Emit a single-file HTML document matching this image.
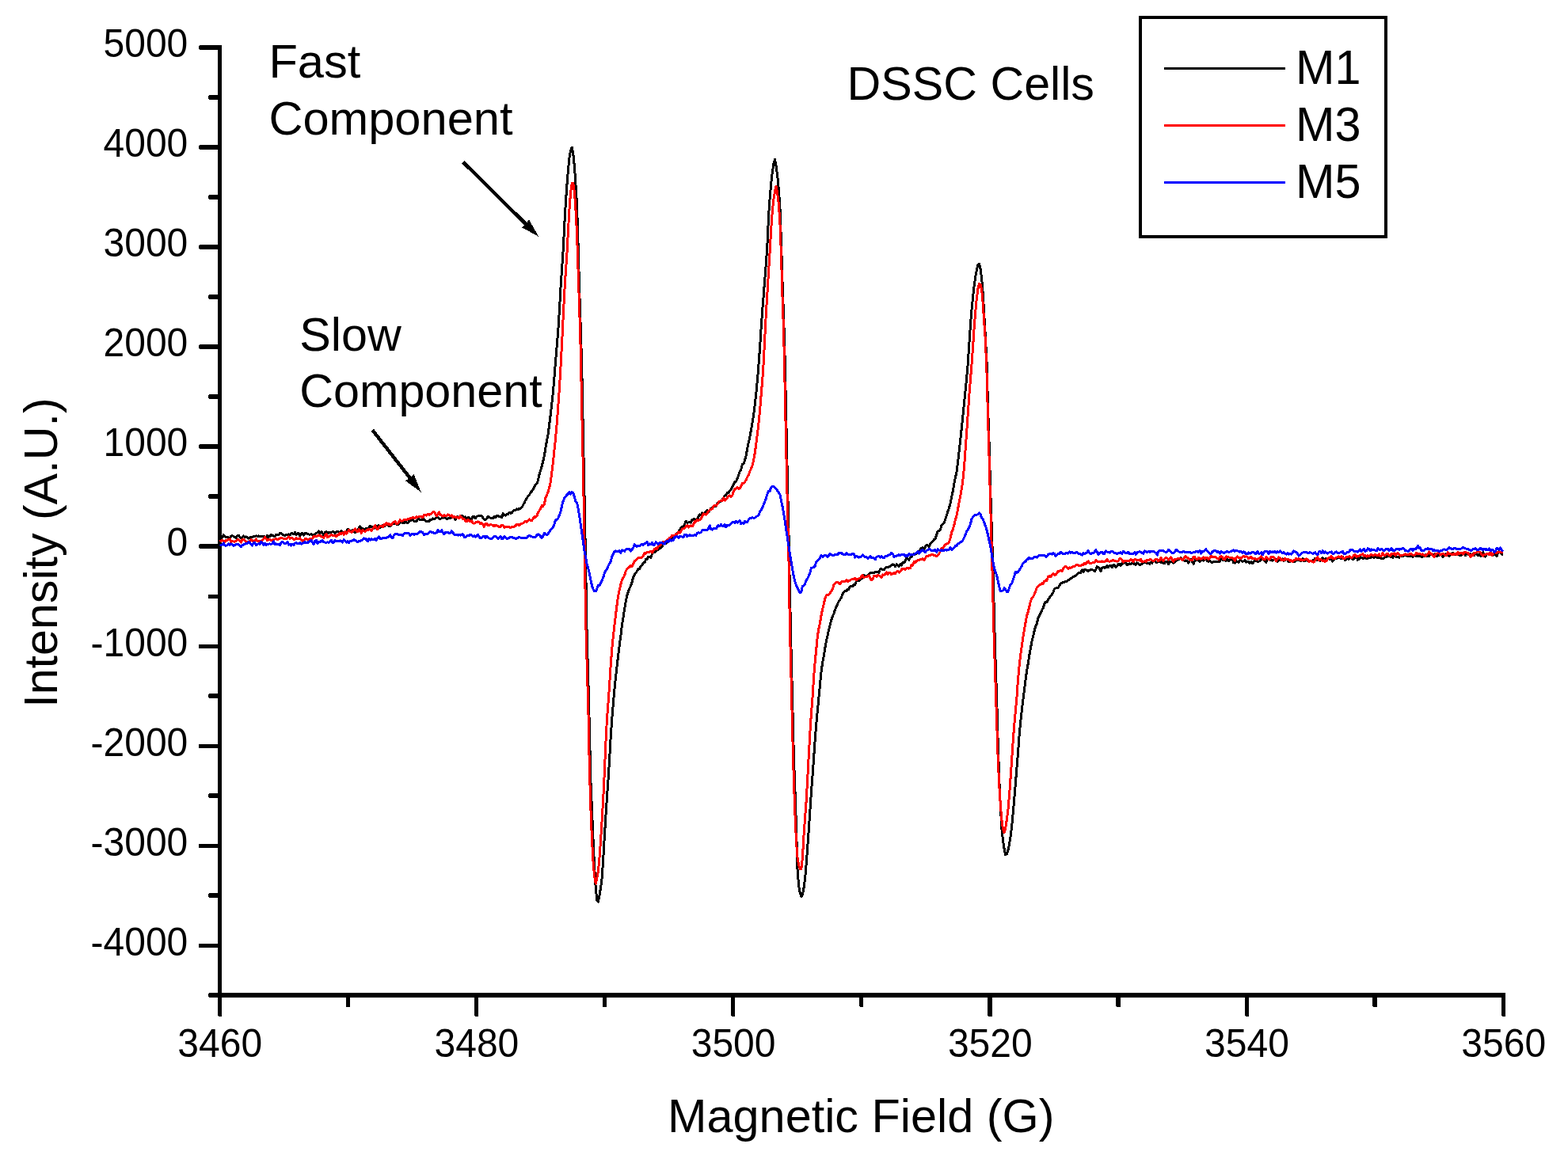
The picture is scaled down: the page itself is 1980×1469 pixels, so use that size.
<!DOCTYPE html>
<html lang="en"><head><meta charset="utf-8"><title>EPR spectra of DSSC cells</title>
<style>html,body{margin:0;padding:0;background:#fff;overflow:hidden}svg{display:block}text{font-family:"Liberation Sans",Arial,Helvetica,sans-serif;fill:#000}.tk{font-size:48px}.tt{font-size:59.4px}.lg{font-size:59.4px}</style></head><body>
<svg width="1980" height="1469" viewBox="0 0 1980 1469">
<rect x="0" y="0" width="1980" height="1469" fill="#fff"/>
<g fill="#000" shape-rendering="crispEdges">
<rect x="275" y="57" width="5" height="1203"/>
<rect x="264" y="1254" width="1637" height="6"/>
<path d="M252 57H276V63H252L251 62V58Z"/>
<path d="M252 183H276V189H252L251 188V184Z"/>
<path d="M252 309H276V315H252L251 314V310Z"/>
<path d="M252 435H276V441H252L251 440V436Z"/>
<path d="M252 561H276V567H252L251 566V562Z"/>
<path d="M252 687H276V693H252L251 692V688Z"/>
<rect x="251" y="814" width="25" height="5"/>
<rect x="251" y="940" width="25" height="5"/>
<rect x="251" y="1066" width="25" height="5"/>
<rect x="251" y="1192" width="25" height="5"/>
<path d="M264 120H276V126H264L263 125V121Z"/>
<path d="M264 246H276V252H264L263 251V247Z"/>
<path d="M264 372H276V378H264L263 377V373Z"/>
<path d="M264 498H276V504H264L263 503V499Z"/>
<path d="M264 624H276V630H264L263 629V625Z"/>
<rect x="263" y="751" width="13" height="5"/>
<path d="M264 876H276V882H264L263 881V877Z"/>
<path d="M264 1002H276V1008H264L263 1007V1003Z"/>
<path d="M264 1128H276V1134H264L263 1133V1129Z"/>
<path d="M264 1254H276V1260H264L263 1259V1255Z"/>
<path d="M275 1258H280V1283L279 1284H276L275 1283Z"/>
<path d="M599 1258H604V1283L603 1284H600L599 1283Z"/>
<path d="M923 1258H928V1283L927 1284H924L923 1283Z"/>
<path d="M1247 1258H1253V1283L1252 1284H1248L1247 1283Z"/>
<path d="M1572 1258H1577V1283L1576 1284H1573L1572 1283Z"/>
<path d="M1896 1258H1901V1283L1900 1284H1897L1896 1283Z"/>
<rect x="437" y="1258" width="5" height="14"/>
<rect x="761" y="1258" width="5" height="14"/>
<path d="M1085 1258H1090V1271L1089 1272H1086L1085 1271Z"/>
<path d="M1409 1258H1415V1271L1414 1272H1410L1409 1271Z"/>
<path d="M1733 1258H1739V1271L1738 1272H1734L1733 1271Z"/>
</g>
<text class="tk" text-anchor="end" transform="translate(237.3 71.9) scale(1 1.04)">5000</text>
<text class="tk" text-anchor="end" transform="translate(237.3 198.0) scale(1 1.04)">4000</text>
<text class="tk" text-anchor="end" transform="translate(237.3 324.1) scale(1 1.04)">3000</text>
<text class="tk" text-anchor="end" transform="translate(237.3 450.2) scale(1 1.04)">2000</text>
<text class="tk" text-anchor="end" transform="translate(237.3 576.3) scale(1 1.04)">1000</text>
<text class="tk" text-anchor="end" transform="translate(237.3 702.4) scale(1 1.04)">0</text>
<text class="tk" text-anchor="end" transform="translate(237.3 828.5) scale(1 1.04)">-1000</text>
<text class="tk" text-anchor="end" transform="translate(237.3 954.6) scale(1 1.04)">-2000</text>
<text class="tk" text-anchor="end" transform="translate(237.3 1080.7) scale(1 1.04)">-3000</text>
<text class="tk" text-anchor="end" transform="translate(237.3 1206.8) scale(1 1.04)">-4000</text>
<text class="tk" text-anchor="middle" transform="translate(277.7 1334.8) scale(1 1.04)">3460</text>
<text class="tk" text-anchor="middle" transform="translate(601.9 1334.8) scale(1 1.04)">3480</text>
<text class="tk" text-anchor="middle" transform="translate(926.1 1334.8) scale(1 1.04)">3500</text>
<text class="tk" text-anchor="middle" transform="translate(1250.3 1334.8) scale(1 1.04)">3520</text>
<text class="tk" text-anchor="middle" transform="translate(1574.5 1334.8) scale(1 1.04)">3540</text>
<text class="tk" text-anchor="middle" transform="translate(1898.7 1334.8) scale(1 1.04)">3560</text>
<text class="tt" text-anchor="middle" transform="translate(1087.3 1429.7)">Magnetic Field (G)</text>
<text class="tt" style="font-size:59.2px" transform="translate(72 893.8) rotate(-90)">Intensity (A.U.)</text>
<text class="tt" style="font-size:59.6px" transform="translate(339.4 98.2)">Fast</text>
<text class="tt" style="font-size:59.6px" transform="translate(339.4 170)">Component</text>
<text class="tt" style="font-size:59.25px" transform="translate(378.3 442.6)">Slow</text>
<text class="tt" style="font-size:59.25px" transform="translate(378.3 514)">Component</text>
<text class="tt" style="font-size:59.2px" transform="translate(1069.5 126.2)">DSSC Cells</text>
<line x1="584.6" y1="204.6" x2="665.0" y2="283.9" stroke="#000" stroke-width="4.4" shape-rendering="crispEdges"/><polygon points="680.3,299.0 658.9,287.2 668.2,277.8" fill="#000" shape-rendering="crispEdges"/>
<line x1="470.3" y1="543.2" x2="518.6" y2="604.9" stroke="#000" stroke-width="4.4" shape-rendering="crispEdges"/><polygon points="531.8,621.8 512.1,607.4 522.6,599.2" fill="#000" shape-rendering="crispEdges"/>
<g fill="none" stroke-width="3" stroke-linejoin="round" stroke-linecap="butt" shape-rendering="crispEdges">
<path stroke="#000000" d="M277.5 681.9L279.1 679.8L280.7 678.5L282.2 675.6L283.8 677.9L285.4 678.5L287.0 678.0L288.6 678.9L290.2 679.3L291.7 677.3L293.3 676.8L294.9 677.3L296.5 678.9L298.1 679.2L299.7 676.7L301.2 676.1L302.8 678.5L304.4 680.3L306.0 678.6L307.6 677.0L309.2 679.0L310.7 677.9L312.3 678.6L313.9 680.1L315.5 679.3L317.1 678.1L318.6 678.7L320.2 677.3L321.8 677.2L323.4 676.9L325.0 677.2L326.6 677.0L328.1 677.2L329.7 677.1L331.3 677.6L332.9 677.7L334.5 678.0L336.1 679.4L337.6 676.1L339.2 678.4L340.8 677.5L342.4 675.4L344.0 676.1L345.5 676.7L347.1 677.8L348.7 675.3L350.3 675.8L351.9 675.9L353.5 673.4L355.0 673.0L356.6 675.3L358.2 676.0L359.8 676.4L361.4 675.7L363.0 675.2L364.5 674.8L366.1 676.0L367.7 673.9L369.3 673.9L370.9 674.8L372.5 672.5L374.0 675.4L375.6 673.9L377.2 673.9L378.8 677.0L380.4 674.2L381.9 673.3L383.5 676.0L385.1 673.6L386.7 673.2L388.3 674.7L389.9 675.0L391.4 675.1L393.0 674.8L394.6 675.9L396.2 675.9L397.8 675.1L399.4 673.3L400.9 672.6L402.5 671.0L404.1 673.7L405.7 671.5L407.3 673.8L408.8 676.0L410.4 672.6L412.0 671.8L413.6 672.1L415.2 673.7L416.8 672.0L418.3 672.1L419.9 671.8L421.5 671.8L423.1 673.8L424.7 671.4L426.3 671.6L427.8 672.2L429.4 672.8L431.0 670.2L432.6 672.2L434.2 672.1L435.8 672.2L437.3 671.2L438.9 668.5L440.5 668.8L442.1 670.9L443.7 670.3L445.2 669.7L446.8 671.7L448.4 672.8L450.0 669.9L451.6 671.2L453.2 666.9L454.7 664.9L456.3 668.3L457.9 667.9L459.5 668.2L461.1 668.2L462.7 667.1L464.2 667.5L465.8 666.9L467.4 664.2L469.0 665.4L470.6 665.8L472.1 667.6L473.7 664.3L475.3 664.3L476.9 664.0L478.5 663.9L480.1 666.1L481.6 665.1L483.2 663.3L484.8 663.5L486.4 664.4L488.0 662.2L489.6 662.2L491.1 664.7L492.7 664.4L494.3 662.8L495.9 661.7L497.5 661.8L499.1 660.0L500.6 662.4L502.2 662.5L503.8 661.7L505.4 659.6L507.0 659.4L508.5 660.9L510.1 660.8L511.7 659.3L513.3 659.9L514.9 660.6L516.5 658.4L518.0 657.6L519.6 657.0L521.2 656.3L522.8 658.5L524.4 658.8L526.0 658.3L527.5 656.2L529.1 655.6L530.7 656.7L532.3 656.6L533.9 657.0L535.5 656.0L537.0 657.2L538.6 659.0L540.2 658.9L541.8 658.6L543.4 656.4L544.9 656.6L546.5 655.0L548.1 655.9L549.7 654.6L551.3 653.8L552.9 653.5L554.4 655.1L556.0 655.1L557.6 654.9L559.2 653.1L560.8 654.2L562.4 652.7L563.9 655.8L565.5 655.0L567.1 654.7L568.7 654.4L570.3 652.4L571.8 652.1L573.4 653.8L575.0 656.3L576.6 653.5L578.2 652.8L579.8 653.7L581.3 651.8L582.9 651.0L584.5 652.5L586.1 653.4L587.7 653.0L589.3 655.2L590.8 653.8L592.4 653.7L594.0 655.5L595.6 656.1L597.2 652.0L598.8 652.2L600.3 654.7L601.9 652.3L603.5 651.9L605.1 651.7L606.7 651.6L608.2 651.9L609.8 653.8L611.4 655.9L613.0 656.7L614.6 655.0L616.2 652.0L617.7 653.6L619.3 654.1L620.9 654.9L622.5 654.6L624.1 652.1L625.7 653.9L627.2 651.3L628.8 651.6L630.4 652.9L632.0 652.9L633.6 653.9L635.1 648.9L636.7 650.2L638.3 651.2L639.9 649.5L641.5 649.7L643.1 647.3L644.6 648.1L646.2 648.0L647.8 645.3L649.4 644.3L651.0 644.2L652.6 642.9L654.1 643.9L655.7 642.4L657.3 642.2L658.9 641.1L660.5 638.0L662.1 635.1L663.6 631.8L665.2 629.2L666.8 626.7L668.4 625.5L670.0 622.1L671.5 620.4L673.1 618.6L674.7 615.2L676.3 612.3L677.9 610.5L679.5 606.8L681.0 599.6L682.6 594.3L684.2 588.8L685.8 582.4L687.4 575.4L689.0 565.1L690.5 556.9L692.1 548.5L693.7 536.2L695.3 523.3L696.9 509.3L698.5 494.2L700.0 475.7L701.6 456.1L703.2 437.2L704.8 417.2L706.4 392.4L707.9 364.6L709.5 340.3L711.1 316.8L712.7 285.1L714.3 256.6L715.9 234.1L717.4 215.4L719.0 199.2L720.6 189.9L722.2 186.1L723.8 194.3L725.4 210.4L726.9 231.8L728.5 257.9L730.1 310.1L731.7 366.6L733.3 415.7L734.8 467.7L736.4 547.8L738.0 625.5L739.6 711.9L741.2 805.9L742.8 857.4L744.3 917.9L745.9 985.9L747.5 1023.0L749.1 1062.5L750.7 1096.2L752.3 1122.6L753.8 1136.9L755.4 1139.2L757.0 1130.9L758.6 1120.9L760.2 1108.3L761.8 1083.8L763.3 1056.8L764.9 1031.2L766.5 1006.7L768.1 983.5L769.7 958.2L771.2 930.5L772.8 907.4L774.4 887.9L776.0 870.5L777.6 854.7L779.2 840.7L780.7 827.2L782.3 814.8L783.9 802.6L785.5 789.2L787.1 779.1L788.7 768.8L790.2 760.2L791.8 752.4L793.4 747.4L795.0 743.1L796.6 739.9L798.1 735.3L799.7 728.8L801.3 726.0L802.9 723.6L804.5 721.3L806.1 718.2L807.6 718.6L809.2 715.2L810.8 714.1L812.4 710.8L814.0 710.8L815.6 706.5L817.1 706.1L818.7 703.1L820.3 703.3L821.9 704.2L823.5 699.3L825.1 697.6L826.6 697.8L828.2 696.3L829.8 693.2L831.4 694.4L833.0 692.6L834.5 692.2L836.1 690.1L837.7 686.5L839.3 685.4L840.9 686.8L842.5 682.9L844.0 681.7L845.6 682.2L847.2 681.9L848.8 680.6L850.4 676.4L852.0 678.4L853.5 675.6L855.1 673.3L856.7 671.6L858.3 669.6L859.9 666.8L861.4 665.6L863.0 666.2L864.6 662.0L866.2 658.1L867.8 660.1L869.4 660.0L870.9 659.5L872.5 660.0L874.1 656.5L875.7 655.8L877.3 655.9L878.9 656.2L880.4 655.4L882.0 652.2L883.6 649.9L885.2 650.2L886.8 648.0L888.4 649.9L889.9 648.1L891.5 646.4L893.1 644.7L894.7 646.3L896.3 644.6L897.8 642.0L899.4 641.8L901.0 640.1L902.6 639.3L904.2 639.1L905.8 636.0L907.3 634.8L908.9 633.6L910.5 632.9L912.1 631.0L913.7 628.6L915.3 626.0L916.8 625.4L918.4 622.5L920.0 622.2L921.6 620.2L923.2 618.4L924.8 615.1L926.3 611.8L927.9 608.9L929.5 608.2L931.1 604.2L932.7 600.3L934.2 595.1L935.8 593.0L937.4 586.3L939.0 586.1L940.6 581.3L942.2 575.0L943.7 566.8L945.3 558.9L946.9 551.7L948.5 542.7L950.1 533.4L951.7 523.5L953.2 511.5L954.8 497.0L956.4 480.2L958.0 460.4L959.6 438.5L961.1 414.2L962.7 392.4L964.3 371.9L965.9 351.2L967.5 330.9L969.1 305.2L970.6 272.1L972.2 249.1L973.8 230.9L975.4 216.5L977.0 206.5L978.6 201.4L980.1 209.8L981.7 221.9L983.3 238.9L984.9 261.0L986.5 306.2L988.1 359.1L989.6 400.4L991.2 454.8L992.8 530.8L994.4 606.2L996.0 675.3L997.5 749.2L999.1 824.2L1000.7 886.8L1002.3 953.3L1003.9 996.4L1005.5 1044.8L1007.0 1097.5L1008.6 1118.8L1010.2 1127.5L1011.8 1132.7L1013.4 1130.2L1015.0 1121.6L1016.5 1110.6L1018.1 1092.0L1019.7 1070.3L1021.3 1047.7L1022.9 1023.4L1024.4 1001.0L1026.0 979.8L1027.6 957.5L1029.2 934.2L1030.8 914.0L1032.4 897.1L1033.9 881.2L1035.5 864.5L1037.1 847.8L1038.7 836.9L1040.3 828.5L1041.9 818.2L1043.4 809.7L1045.0 803.1L1046.6 795.5L1048.2 789.3L1049.8 783.1L1051.4 778.4L1052.9 775.1L1054.5 770.2L1056.1 766.5L1057.7 762.6L1059.3 759.3L1060.8 757.3L1062.4 754.9L1064.0 750.1L1065.6 748.2L1067.2 746.6L1068.8 747.0L1070.3 744.2L1071.9 744.2L1073.5 740.8L1075.1 740.0L1076.7 740.7L1078.3 738.3L1079.8 738.4L1081.4 733.9L1083.0 734.0L1084.6 733.9L1086.2 732.4L1087.8 729.4L1089.3 730.3L1090.9 726.3L1092.5 728.1L1094.1 727.7L1095.7 727.5L1097.2 725.6L1098.8 723.4L1100.4 723.2L1102.0 723.0L1103.6 723.9L1105.2 722.7L1106.7 722.8L1108.3 722.6L1109.9 723.3L1111.5 718.7L1113.1 718.6L1114.7 720.0L1116.2 719.8L1117.8 717.5L1119.4 716.7L1121.0 716.5L1122.6 716.3L1124.1 715.0L1125.7 714.1L1127.3 713.0L1128.9 713.4L1130.5 715.5L1132.1 712.8L1133.6 713.8L1135.2 715.3L1136.8 712.8L1138.4 714.0L1140.0 710.8L1141.6 711.0L1143.1 708.5L1144.7 705.3L1146.3 705.7L1147.9 707.3L1149.5 703.9L1151.1 703.2L1152.6 700.9L1154.2 699.5L1155.8 700.2L1157.4 698.9L1159.0 698.4L1160.5 698.2L1162.1 694.0L1163.7 692.1L1165.3 691.8L1166.9 693.7L1168.5 690.4L1170.0 688.4L1171.6 688.8L1173.2 690.6L1174.8 687.1L1176.4 685.0L1178.0 683.4L1179.5 681.6L1181.1 681.0L1182.7 675.1L1184.3 670.9L1185.9 670.4L1187.4 669.1L1189.0 663.5L1190.6 661.7L1192.2 660.8L1193.8 655.4L1195.4 650.9L1196.9 645.9L1198.5 641.4L1200.1 635.5L1201.7 627.6L1203.3 620.0L1204.9 610.9L1206.4 603.3L1208.0 596.1L1209.6 583.7L1211.2 569.6L1212.8 554.7L1214.4 539.8L1215.9 525.3L1217.5 509.0L1219.1 493.1L1220.7 476.6L1222.3 458.3L1223.8 435.0L1225.4 410.7L1227.0 391.5L1228.6 375.0L1230.2 360.5L1231.8 349.4L1233.3 341.2L1234.9 334.1L1236.5 333.2L1238.1 339.9L1239.7 351.7L1241.3 370.9L1242.8 399.0L1244.4 425.6L1246.0 456.9L1247.6 515.6L1249.2 563.7L1250.7 619.1L1252.3 668.1L1253.9 716.6L1255.5 780.4L1257.1 836.6L1258.7 882.9L1260.2 938.7L1261.8 985.1L1263.4 1020.8L1265.0 1047.5L1266.6 1062.4L1268.2 1072.6L1269.7 1079.9L1271.3 1078.8L1272.9 1074.1L1274.5 1066.4L1276.1 1056.6L1277.7 1043.1L1279.2 1026.7L1280.8 1008.7L1282.4 989.2L1284.0 969.4L1285.6 950.0L1287.1 929.1L1288.7 912.1L1290.3 897.0L1291.9 883.8L1293.5 870.6L1295.1 858.7L1296.6 846.9L1298.2 838.4L1299.8 827.8L1301.4 818.7L1303.0 810.1L1304.6 804.1L1306.1 796.9L1307.7 791.1L1309.3 787.6L1310.9 780.7L1312.5 777.2L1314.1 774.6L1315.6 770.7L1317.2 768.0L1318.8 763.1L1320.4 760.2L1322.0 760.6L1323.5 757.2L1325.1 755.4L1326.7 752.5L1328.3 750.9L1329.9 748.4L1331.5 743.7L1333.0 743.0L1334.6 742.2L1336.2 742.2L1337.8 739.8L1339.4 736.9L1341.0 736.7L1342.5 735.2L1344.1 735.2L1345.7 734.3L1347.3 734.4L1348.9 732.9L1350.4 732.4L1352.0 730.5L1353.6 730.0L1355.2 728.3L1356.8 728.0L1358.4 726.9L1359.9 725.4L1361.5 724.0L1363.1 723.3L1364.7 723.7L1366.3 719.9L1367.9 722.7L1369.4 719.2L1371.0 719.9L1372.6 720.3L1374.2 721.2L1375.8 720.6L1377.4 719.7L1378.9 719.4L1380.5 720.2L1382.1 722.0L1383.7 719.8L1385.3 715.6L1386.8 716.4L1388.4 717.9L1390.0 721.7L1391.6 717.5L1393.2 716.0L1394.8 717.1L1396.3 717.0L1397.9 714.6L1399.5 716.6L1401.1 714.4L1402.7 714.5L1404.3 716.8L1405.8 713.8L1407.4 713.7L1409.0 716.4L1410.6 714.6L1412.2 712.6L1413.7 712.6L1415.3 714.4L1416.9 711.8L1418.5 711.8L1420.1 710.9L1421.7 710.8L1423.2 713.8L1424.8 713.0L1426.4 711.8L1428.0 712.6L1429.6 711.4L1431.2 710.2L1432.7 712.8L1434.3 713.4L1435.9 711.0L1437.5 712.2L1439.1 713.7L1440.7 712.8L1442.2 712.3L1443.8 710.0L1445.4 710.6L1447.0 708.7L1448.6 711.7L1450.1 711.1L1451.7 712.3L1453.3 710.1L1454.9 711.1L1456.5 708.5L1458.1 708.8L1459.6 710.4L1461.2 710.4L1462.8 709.7L1464.4 707.5L1466.0 710.5L1467.6 710.9L1469.1 711.2L1470.7 711.3L1472.3 709.3L1473.9 709.6L1475.5 712.8L1477.0 709.3L1478.6 709.3L1480.2 708.6L1481.8 711.1L1483.4 710.0L1485.0 707.8L1486.5 707.8L1488.1 706.9L1489.7 705.4L1491.3 704.5L1492.9 706.8L1494.5 707.1L1496.0 708.6L1497.6 707.8L1499.2 708.8L1500.8 711.2L1502.4 708.0L1504.0 706.7L1505.5 709.5L1507.1 712.2L1508.7 708.6L1510.3 706.2L1511.9 707.6L1513.4 708.0L1515.0 709.4L1516.6 707.6L1518.2 707.9L1519.8 708.1L1521.4 706.5L1522.9 705.9L1524.5 708.5L1526.1 709.5L1527.7 707.8L1529.3 710.2L1530.9 710.4L1532.4 709.5L1534.0 709.5L1535.6 709.2L1537.2 709.6L1538.8 709.9L1540.4 708.9L1541.9 705.8L1543.5 707.3L1545.1 707.2L1546.7 706.5L1548.3 708.6L1549.8 706.3L1551.4 708.6L1553.0 707.8L1554.6 706.4L1556.2 706.6L1557.8 710.9L1559.3 711.1L1560.9 708.5L1562.5 709.5L1564.1 710.9L1565.7 707.8L1567.3 707.4L1568.8 709.2L1570.4 709.0L1572.0 707.8L1573.6 710.0L1575.2 709.4L1576.7 709.3L1578.3 711.5L1579.9 709.7L1581.5 711.7L1583.1 709.6L1584.7 708.0L1586.2 708.1L1587.8 709.2L1589.4 709.2L1591.0 708.8L1592.6 706.2L1594.2 705.9L1595.7 707.2L1597.3 708.8L1598.9 710.2L1600.5 705.5L1602.1 706.8L1603.7 707.3L1605.2 707.6L1606.8 708.2L1608.4 707.0L1610.0 705.9L1611.6 708.7L1613.1 709.4L1614.7 707.8L1616.3 707.7L1617.9 707.1L1619.5 705.9L1621.1 708.2L1622.6 707.4L1624.2 706.3L1625.8 706.8L1627.4 709.9L1629.0 709.3L1630.6 708.5L1632.1 708.3L1633.7 709.2L1635.3 709.4L1636.9 706.7L1638.5 707.2L1640.0 707.1L1641.6 708.1L1643.2 708.1L1644.8 705.4L1646.4 708.7L1648.0 708.9L1649.5 705.9L1651.1 708.8L1652.7 708.7L1654.3 708.7L1655.9 708.2L1657.5 708.1L1659.0 707.3L1660.6 705.5L1662.2 706.3L1663.8 707.7L1665.4 707.8L1667.0 708.5L1668.5 707.7L1670.1 704.6L1671.7 707.4L1673.3 706.6L1674.9 705.2L1676.4 706.2L1678.0 705.2L1679.6 706.9L1681.2 705.9L1682.8 709.0L1684.4 707.3L1685.9 705.9L1687.5 705.6L1689.1 703.5L1690.7 704.5L1692.3 705.1L1693.9 705.6L1695.4 703.3L1697.0 705.3L1698.6 707.8L1700.2 706.1L1701.8 705.7L1703.4 706.4L1704.9 704.9L1706.5 704.7L1708.1 706.6L1709.7 706.1L1711.3 703.8L1712.8 702.4L1714.4 707.3L1716.0 706.5L1717.6 703.0L1719.2 704.3L1720.8 705.6L1722.3 705.0L1723.9 702.0L1725.5 705.8L1727.1 705.7L1728.7 704.1L1730.3 704.8L1731.8 703.9L1733.4 703.2L1735.0 704.7L1736.6 701.4L1738.2 703.9L1739.7 704.4L1741.3 704.5L1742.9 704.8L1744.5 705.6L1746.1 705.7L1747.7 704.9L1749.2 702.9L1750.8 703.7L1752.4 702.6L1754.0 701.4L1755.6 703.0L1757.2 703.4L1758.7 704.4L1760.3 700.4L1761.9 702.5L1763.5 703.7L1765.1 703.0L1766.7 704.4L1768.2 701.9L1769.8 702.4L1771.4 702.0L1773.0 702.1L1774.6 701.0L1776.1 701.6L1777.7 703.0L1779.3 702.5L1780.9 702.6L1782.5 701.2L1784.1 703.7L1785.6 701.7L1787.2 701.6L1788.8 702.6L1790.4 701.8L1792.0 702.7L1793.6 702.3L1795.1 704.0L1796.7 703.1L1798.3 702.3L1799.9 700.7L1801.5 701.8L1803.0 703.0L1804.6 702.4L1806.2 700.4L1807.8 700.3L1809.4 700.8L1811.0 701.2L1812.5 699.5L1814.1 703.0L1815.7 701.8L1817.3 701.2L1818.9 700.6L1820.5 700.8L1822.0 703.5L1823.6 700.6L1825.2 699.9L1826.8 699.4L1828.4 699.7L1830.0 702.6L1831.5 700.7L1833.1 699.9L1834.7 698.2L1836.3 699.5L1837.9 700.8L1839.4 700.1L1841.0 699.9L1842.6 701.4L1844.2 701.6L1845.8 700.6L1847.4 699.4L1848.9 698.2L1850.5 701.9L1852.1 699.1L1853.7 700.5L1855.3 700.3L1856.9 699.3L1858.4 701.1L1860.0 699.7L1861.6 701.5L1863.2 699.4L1864.8 700.3L1866.3 701.9L1867.9 699.4L1869.5 702.3L1871.1 702.0L1872.7 697.5L1874.3 700.8L1875.8 703.0L1877.4 700.4L1879.0 699.5L1880.6 700.2L1882.2 697.5L1883.8 699.2L1885.3 701.0L1886.9 699.4L1888.5 700.9L1890.1 703.0L1891.7 698.1L1893.3 696.5L1894.8 697.9L1896.4 700.1L1898.0 700.3"/>
<path stroke="#ff0000" d="M277.5 683.9L279.1 683.6L280.7 682.3L282.2 684.2L283.8 684.7L285.4 682.2L287.0 682.3L288.6 681.6L290.2 681.0L291.7 685.1L293.3 683.6L294.9 684.0L296.5 684.0L298.1 683.5L299.7 681.9L301.2 681.5L302.8 683.4L304.4 685.0L306.0 681.3L307.6 681.2L309.2 682.5L310.7 684.5L312.3 684.3L313.9 684.4L315.5 683.7L317.1 681.7L318.6 682.2L320.2 684.3L321.8 683.4L323.4 681.0L325.0 683.8L326.6 683.6L328.1 683.4L329.7 685.1L331.3 682.2L332.9 680.8L334.5 678.2L336.1 680.8L337.6 682.5L339.2 681.8L340.8 681.4L342.4 682.6L344.0 682.1L345.5 681.8L347.1 681.0L348.7 680.7L350.3 682.0L351.9 680.9L353.5 679.8L355.0 679.4L356.6 679.8L358.2 680.3L359.8 680.8L361.4 680.4L363.0 679.6L364.5 677.7L366.1 680.1L367.7 679.0L369.3 679.5L370.9 681.7L372.5 681.1L374.0 679.4L375.6 681.0L377.2 680.5L378.8 679.8L380.4 682.1L381.9 682.2L383.5 685.3L385.1 680.8L386.7 680.3L388.3 681.3L389.9 682.4L391.4 680.3L393.0 681.6L394.6 680.0L396.2 677.6L397.8 677.4L399.4 677.4L400.9 676.9L402.5 676.0L404.1 676.2L405.7 677.8L407.3 678.2L408.8 679.4L410.4 676.2L412.0 674.7L413.6 678.7L415.2 677.8L416.8 677.0L418.3 675.3L419.9 676.4L421.5 676.5L423.1 676.2L424.7 677.7L426.3 675.5L427.8 675.7L429.4 673.4L431.0 674.8L432.6 672.9L434.2 675.3L435.8 671.8L437.3 674.0L438.9 671.9L440.5 669.6L442.1 671.5L443.7 672.3L445.2 670.6L446.8 669.6L448.4 667.9L450.0 670.0L451.6 671.8L453.2 668.8L454.7 670.6L456.3 673.4L457.9 669.4L459.5 670.8L461.1 671.6L462.7 669.7L464.2 670.0L465.8 668.0L467.4 668.8L469.0 670.5L470.6 667.8L472.1 666.1L473.7 663.6L475.3 667.7L476.9 669.0L478.5 665.5L480.1 664.8L481.6 664.5L483.2 665.9L484.8 662.3L486.4 663.6L488.0 660.3L489.6 662.5L491.1 661.5L492.7 663.2L494.3 662.8L495.9 660.5L497.5 659.4L499.1 658.4L500.6 661.6L502.2 661.6L503.8 658.7L505.4 656.6L507.0 658.2L508.5 657.8L510.1 656.4L511.7 656.5L513.3 656.9L514.9 655.8L516.5 655.9L518.0 654.9L519.6 654.6L521.2 653.4L522.8 654.5L524.4 654.0L526.0 652.9L527.5 653.2L529.1 652.6L530.7 652.3L532.3 653.0L533.9 653.6L535.5 650.2L537.0 650.7L538.6 651.2L540.2 649.3L541.8 650.3L543.4 649.6L544.9 648.5L546.5 646.6L548.1 646.5L549.7 648.8L551.3 651.9L552.9 649.8L554.4 646.8L556.0 650.7L557.6 651.0L559.2 652.1L560.8 650.4L562.4 651.7L563.9 651.9L565.5 649.8L567.1 650.5L568.7 651.7L570.3 650.8L571.8 653.4L573.4 652.4L575.0 653.7L576.6 653.0L578.2 654.0L579.8 654.7L581.3 651.8L582.9 653.3L584.5 655.8L586.1 655.4L587.7 657.9L589.3 658.9L590.8 656.6L592.4 657.5L594.0 658.9L595.6 657.8L597.2 660.8L598.8 661.1L600.3 660.2L601.9 659.1L603.5 659.0L605.1 659.5L606.7 661.9L608.2 660.7L609.8 662.6L611.4 665.5L613.0 661.5L614.6 661.1L616.2 663.9L617.7 663.8L619.3 662.2L620.9 662.9L622.5 663.6L624.1 664.9L625.7 663.4L627.2 663.8L628.8 664.5L630.4 665.5L632.0 665.2L633.6 663.4L635.1 663.1L636.7 666.5L638.3 665.3L639.9 665.2L641.5 665.2L643.1 665.5L644.6 666.7L646.2 665.2L647.8 665.4L649.4 665.1L651.0 664.4L652.6 662.1L654.1 662.1L655.7 663.8L657.3 662.4L658.9 661.3L660.5 660.9L662.1 659.2L663.6 658.7L665.2 659.5L666.8 657.8L668.4 656.0L670.0 657.5L671.5 657.5L673.1 655.2L674.7 652.4L676.3 653.3L677.9 651.9L679.5 647.3L681.0 645.1L682.6 642.4L684.2 638.8L685.8 639.3L687.4 636.7L689.0 628.4L690.5 625.4L692.1 621.0L693.7 615.8L695.3 609.1L696.9 596.3L698.5 582.7L700.0 568.3L701.6 553.1L703.2 535.1L704.8 513.4L706.4 490.5L707.9 465.4L709.5 435.5L711.1 402.4L712.7 369.9L714.3 343.8L715.9 321.0L717.4 292.4L719.0 264.1L720.6 242.6L722.2 231.5L723.8 231.5L725.4 242.3L726.9 263.3L728.5 294.5L730.1 342.7L731.7 390.1L733.3 444.7L734.8 521.4L736.4 594.5L738.0 680.7L739.6 780.3L741.2 840.1L742.8 892.1L744.3 968.6L745.9 1021.4L747.5 1060.7L749.1 1089.8L750.7 1106.8L752.3 1116.1L753.8 1108.9L755.4 1100.6L757.0 1083.4L758.6 1060.3L760.2 1035.5L761.8 1007.5L763.3 976.4L764.9 937.9L766.5 907.4L768.1 886.6L769.7 864.2L771.2 839.7L772.8 819.7L774.4 803.4L776.0 789.2L777.6 775.9L779.2 763.2L780.7 752.2L782.3 744.8L783.9 737.9L785.5 732.7L787.1 729.6L788.7 726.8L790.2 721.3L791.8 718.6L793.4 716.8L795.0 716.1L796.6 714.2L798.1 715.8L799.7 712.4L801.3 708.7L802.9 707.4L804.5 705.7L806.1 704.7L807.6 704.2L809.2 704.7L810.8 704.1L812.4 702.1L814.0 698.8L815.6 699.3L817.1 697.5L818.7 697.1L820.3 697.3L821.9 696.2L823.5 698.1L825.1 695.6L826.6 693.5L828.2 692.7L829.8 693.5L831.4 689.7L833.0 689.1L834.5 687.5L836.1 687.0L837.7 684.2L839.3 684.0L840.9 684.8L842.5 681.8L844.0 682.2L845.6 679.5L847.2 678.2L848.8 676.0L850.4 676.6L852.0 676.2L853.5 674.6L855.1 674.4L856.7 671.9L858.3 673.2L859.9 671.1L861.4 668.2L863.0 667.5L864.6 667.1L866.2 664.8L867.8 663.5L869.4 666.1L870.9 664.9L872.5 664.0L874.1 665.0L875.7 662.4L877.3 658.7L878.9 659.1L880.4 656.7L882.0 657.3L883.6 656.3L885.2 655.6L886.8 652.1L888.4 648.8L889.9 649.9L891.5 650.1L893.1 648.1L894.7 645.9L896.3 644.4L897.8 643.1L899.4 643.0L901.0 639.5L902.6 638.6L904.2 638.8L905.8 636.9L907.3 634.5L908.9 633.0L910.5 632.9L912.1 632.6L913.7 628.8L915.3 632.0L916.8 630.7L918.4 628.8L920.0 626.7L921.6 626.0L923.2 627.3L924.8 626.0L926.3 620.5L927.9 617.9L929.5 617.1L931.1 615.1L932.7 617.5L934.2 616.9L935.8 613.6L937.4 610.3L939.0 610.5L940.6 608.7L942.2 606.2L943.7 602.5L945.3 600.0L946.9 595.3L948.5 592.1L950.1 587.7L951.7 580.8L953.2 572.4L954.8 560.8L956.4 548.4L958.0 533.8L959.6 517.9L961.1 499.4L962.7 480.3L964.3 457.1L965.9 423.9L967.5 393.3L969.1 367.6L970.6 342.2L972.2 316.9L973.8 288.0L975.4 265.5L977.0 251.1L978.6 240.9L980.1 235.3L981.7 244.1L983.3 257.6L984.9 281.4L986.5 323.2L988.1 377.9L989.6 418.8L991.2 490.8L992.8 570.1L994.4 641.4L996.0 708.9L997.5 796.8L999.1 859.4L1000.7 925.0L1002.3 983.4L1003.9 1027.0L1005.5 1063.1L1007.0 1082.8L1008.6 1092.7L1010.2 1097.5L1011.8 1097.3L1013.4 1083.4L1015.0 1055.3L1016.5 1034.4L1018.1 1012.2L1019.7 983.9L1021.3 954.1L1022.9 924.4L1024.4 901.5L1026.0 881.1L1027.6 855.1L1029.2 835.7L1030.8 819.7L1032.4 803.2L1033.9 794.2L1035.5 786.8L1037.1 776.8L1038.7 769.5L1040.3 762.6L1041.9 756.0L1043.4 752.1L1045.0 751.3L1046.6 751.1L1048.2 748.8L1049.8 746.6L1051.4 744.4L1052.9 738.7L1054.5 737.2L1056.1 735.0L1057.7 735.6L1059.3 736.7L1060.8 737.8L1062.4 734.8L1064.0 734.1L1065.6 734.7L1067.2 734.6L1068.8 732.5L1070.3 734.4L1071.9 733.8L1073.5 732.9L1075.1 731.9L1076.7 731.9L1078.3 730.9L1079.8 730.8L1081.4 732.5L1083.0 731.1L1084.6 730.9L1086.2 730.4L1087.8 728.1L1089.3 726.7L1090.9 729.5L1092.5 728.7L1094.1 728.7L1095.7 728.1L1097.2 727.0L1098.8 730.0L1100.4 732.8L1102.0 731.5L1103.6 727.3L1105.2 727.0L1106.7 728.3L1108.3 726.5L1109.9 727.0L1111.5 727.9L1113.1 729.9L1114.7 725.9L1116.2 726.4L1117.8 725.2L1119.4 722.9L1121.0 725.9L1122.6 723.4L1124.1 723.9L1125.7 725.6L1127.3 724.8L1128.9 723.4L1130.5 724.5L1132.1 722.6L1133.6 721.1L1135.2 723.1L1136.8 721.8L1138.4 719.6L1140.0 718.0L1141.6 718.0L1143.1 719.7L1144.7 717.6L1146.3 717.0L1147.9 718.1L1149.5 717.7L1151.1 713.0L1152.6 714.1L1154.2 709.3L1155.8 710.7L1157.4 708.6L1159.0 707.8L1160.5 707.5L1162.1 706.6L1163.7 706.6L1165.3 705.6L1166.9 707.5L1168.5 705.0L1170.0 702.2L1171.6 702.5L1173.2 701.2L1174.8 701.2L1176.4 700.5L1178.0 700.8L1179.5 701.3L1181.1 701.9L1182.7 702.5L1184.3 701.5L1185.9 699.4L1187.4 696.2L1189.0 692.4L1190.6 692.8L1192.2 689.9L1193.8 687.8L1195.4 687.2L1196.9 686.4L1198.5 684.7L1200.1 679.6L1201.7 672.5L1203.3 668.6L1204.9 663.1L1206.4 656.5L1208.0 651.0L1209.6 642.6L1211.2 634.2L1212.8 626.0L1214.4 617.0L1215.9 606.4L1217.5 589.8L1219.1 568.0L1220.7 545.5L1222.3 522.3L1223.8 499.8L1225.4 480.2L1227.0 460.2L1228.6 437.8L1230.2 413.5L1231.8 393.2L1233.3 377.2L1234.9 364.9L1236.5 358.4L1238.1 359.4L1239.7 366.4L1241.3 383.8L1242.8 408.5L1244.4 430.7L1246.0 470.7L1247.6 530.2L1249.2 582.2L1250.7 637.8L1252.3 693.7L1253.9 755.9L1255.5 817.5L1257.1 864.7L1258.7 913.4L1260.2 958.8L1261.8 992.7L1263.4 1017.5L1265.0 1036.4L1266.6 1048.2L1268.2 1051.6L1269.7 1045.9L1271.3 1035.7L1272.9 1023.0L1274.5 1005.0L1276.1 982.3L1277.7 958.9L1279.2 935.9L1280.8 915.4L1282.4 897.8L1284.0 879.7L1285.6 857.0L1287.1 841.5L1288.7 827.0L1290.3 815.7L1291.9 804.8L1293.5 794.7L1295.1 786.1L1296.6 778.1L1298.2 772.7L1299.8 766.4L1301.4 759.6L1303.0 755.8L1304.6 754.0L1306.1 750.7L1307.7 746.9L1309.3 742.4L1310.9 740.3L1312.5 738.9L1314.1 738.7L1315.6 736.8L1317.2 737.3L1318.8 734.2L1320.4 733.0L1322.0 733.2L1323.5 728.6L1325.1 727.4L1326.7 728.9L1328.3 726.5L1329.9 724.6L1331.5 726.4L1333.0 726.1L1334.6 723.7L1336.2 721.4L1337.8 721.9L1339.4 720.1L1341.0 721.8L1342.5 718.5L1344.1 716.6L1345.7 715.4L1347.3 716.5L1348.9 718.4L1350.4 716.8L1352.0 717.3L1353.6 716.4L1355.2 715.6L1356.8 715.2L1358.4 714.3L1359.9 713.0L1361.5 714.0L1363.1 714.2L1364.7 714.4L1366.3 713.1L1367.9 713.2L1369.4 711.6L1371.0 712.4L1372.6 710.3L1374.2 708.9L1375.8 711.6L1377.4 711.0L1378.9 711.0L1380.5 710.8L1382.1 710.8L1383.7 707.6L1385.3 708.7L1386.8 710.0L1388.4 709.1L1390.0 709.6L1391.6 708.9L1393.2 709.3L1394.8 709.9L1396.3 708.8L1397.9 706.5L1399.5 708.8L1401.1 709.5L1402.7 708.6L1404.3 708.4L1405.8 707.1L1407.4 708.4L1409.0 708.8L1410.6 709.2L1412.2 708.3L1413.7 705.8L1415.3 705.5L1416.9 707.1L1418.5 710.2L1420.1 708.2L1421.7 708.5L1423.2 708.0L1424.8 708.2L1426.4 708.2L1428.0 706.5L1429.6 707.4L1431.2 709.5L1432.7 706.6L1434.3 706.7L1435.9 707.8L1437.5 707.7L1439.1 708.1L1440.7 706.3L1442.2 709.7L1443.8 709.3L1445.4 708.9L1447.0 709.3L1448.6 707.2L1450.1 708.0L1451.7 706.9L1453.3 706.8L1454.9 708.0L1456.5 708.9L1458.1 707.6L1459.6 706.4L1461.2 706.5L1462.8 708.8L1464.4 707.7L1466.0 704.1L1467.6 707.3L1469.1 708.4L1470.7 705.7L1472.3 704.3L1473.9 705.2L1475.5 707.1L1477.0 705.9L1478.6 703.8L1480.2 706.9L1481.8 709.4L1483.4 706.1L1485.0 706.1L1486.5 705.9L1488.1 705.8L1489.7 705.0L1491.3 705.7L1492.9 707.2L1494.5 706.7L1496.0 703.0L1497.6 702.9L1499.2 704.3L1500.8 705.9L1502.4 706.7L1504.0 708.0L1505.5 707.7L1507.1 703.3L1508.7 703.7L1510.3 706.2L1511.9 706.6L1513.4 704.5L1515.0 705.7L1516.6 706.3L1518.2 705.0L1519.8 703.9L1521.4 706.0L1522.9 704.0L1524.5 704.2L1526.1 706.6L1527.7 705.1L1529.3 702.4L1530.9 703.9L1532.4 703.2L1534.0 703.5L1535.6 703.9L1537.2 705.2L1538.8 706.4L1540.4 703.7L1541.9 702.7L1543.5 703.6L1545.1 706.7L1546.7 706.4L1548.3 703.0L1549.8 703.6L1551.4 703.7L1553.0 704.4L1554.6 704.7L1556.2 704.8L1557.8 705.4L1559.3 708.1L1560.9 704.4L1562.5 702.7L1564.1 704.8L1565.7 704.1L1567.3 705.4L1568.8 703.4L1570.4 702.6L1572.0 703.2L1573.6 702.9L1575.2 703.6L1576.7 705.8L1578.3 703.8L1579.9 703.6L1581.5 705.9L1583.1 705.1L1584.7 705.2L1586.2 706.2L1587.8 706.7L1589.4 705.7L1591.0 704.8L1592.6 703.0L1594.2 705.1L1595.7 706.8L1597.3 706.9L1598.9 703.7L1600.5 705.2L1602.1 706.5L1603.7 706.0L1605.2 703.6L1606.8 703.8L1608.4 703.5L1610.0 706.6L1611.6 708.6L1613.1 706.4L1614.7 703.9L1616.3 704.6L1617.9 707.2L1619.5 706.9L1621.1 708.0L1622.6 705.3L1624.2 706.9L1625.8 706.3L1627.4 706.9L1629.0 708.3L1630.6 707.7L1632.1 709.8L1633.7 708.0L1635.3 707.2L1636.9 705.1L1638.5 706.8L1640.0 705.4L1641.6 707.5L1643.2 706.8L1644.8 707.8L1646.4 707.4L1648.0 706.6L1649.5 705.9L1651.1 706.5L1652.7 709.6L1654.3 708.2L1655.9 708.0L1657.5 709.7L1659.0 710.1L1660.6 707.8L1662.2 705.3L1663.8 703.8L1665.4 707.5L1667.0 706.0L1668.5 707.3L1670.1 708.5L1671.7 707.7L1673.3 709.3L1674.9 708.5L1676.4 705.3L1678.0 704.8L1679.6 704.6L1681.2 702.4L1682.8 705.3L1684.4 705.4L1685.9 705.8L1687.5 704.2L1689.1 703.6L1690.7 702.9L1692.3 704.1L1693.9 702.8L1695.4 704.3L1697.0 706.0L1698.6 705.2L1700.2 703.3L1701.8 703.5L1703.4 702.9L1704.9 703.0L1706.5 704.9L1708.1 703.3L1709.7 701.2L1711.3 700.5L1712.8 703.4L1714.4 702.8L1716.0 702.7L1717.6 701.0L1719.2 700.9L1720.8 699.8L1722.3 702.4L1723.9 701.1L1725.5 703.3L1727.1 701.7L1728.7 702.4L1730.3 701.4L1731.8 700.1L1733.4 701.6L1735.0 701.4L1736.6 700.2L1738.2 701.6L1739.7 702.0L1741.3 700.0L1742.9 702.8L1744.5 702.0L1746.1 698.4L1747.7 701.4L1749.2 701.3L1750.8 699.5L1752.4 699.2L1754.0 701.3L1755.6 702.3L1757.2 699.3L1758.7 699.7L1760.3 699.0L1761.9 701.8L1763.5 699.4L1765.1 698.5L1766.7 700.2L1768.2 702.1L1769.8 701.2L1771.4 701.4L1773.0 700.5L1774.6 699.9L1776.1 700.9L1777.7 700.3L1779.3 700.7L1780.9 699.1L1782.5 700.3L1784.1 701.0L1785.6 701.1L1787.2 700.5L1788.8 698.2L1790.4 699.3L1792.0 699.2L1793.6 699.8L1795.1 700.3L1796.7 699.9L1798.3 701.5L1799.9 702.2L1801.5 700.3L1803.0 700.0L1804.6 697.0L1806.2 699.6L1807.8 699.5L1809.4 701.7L1811.0 704.0L1812.5 700.0L1814.1 699.3L1815.7 698.7L1817.3 698.4L1818.9 701.1L1820.5 700.2L1822.0 699.2L1823.6 699.8L1825.2 701.4L1826.8 701.6L1828.4 697.6L1830.0 699.4L1831.5 699.4L1833.1 700.7L1834.7 699.9L1836.3 700.1L1837.9 699.0L1839.4 700.6L1841.0 697.9L1842.6 699.7L1844.2 698.4L1845.8 698.0L1847.4 700.1L1848.9 697.9L1850.5 697.7L1852.1 698.1L1853.7 698.5L1855.3 700.5L1856.9 703.4L1858.4 700.7L1860.0 701.5L1861.6 698.1L1863.2 698.5L1864.8 697.5L1866.3 695.1L1867.9 697.2L1869.5 697.7L1871.1 700.2L1872.7 702.3L1874.3 700.3L1875.8 700.7L1877.4 699.4L1879.0 699.1L1880.6 700.6L1882.2 697.3L1883.8 701.5L1885.3 700.0L1886.9 696.3L1888.5 698.2L1890.1 698.1L1891.7 697.6L1893.3 697.3L1894.8 697.8L1896.4 697.5L1898.0 697.6"/>
<path stroke="#0000ff" d="M277.5 687.9L279.1 688.3L280.7 688.2L282.2 686.0L283.8 688.9L285.4 689.4L287.0 688.3L288.6 687.0L290.2 688.6L291.7 686.8L293.3 687.8L294.9 689.3L296.5 688.7L298.1 687.6L299.7 687.4L301.2 687.5L302.8 689.4L304.4 690.6L306.0 688.8L307.6 687.9L309.2 687.1L310.7 686.2L312.3 686.6L313.9 684.5L315.5 685.4L317.1 687.7L318.6 689.0L320.2 685.4L321.8 685.8L323.4 688.5L325.0 687.5L326.6 686.7L328.1 687.3L329.7 684.3L331.3 685.6L332.9 688.7L334.5 686.4L336.1 688.6L337.6 687.5L339.2 687.2L340.8 686.9L342.4 687.2L344.0 686.5L345.5 683.9L347.1 688.0L348.7 686.9L350.3 687.8L351.9 687.6L353.5 688.5L355.0 685.8L356.6 684.5L358.2 685.6L359.8 686.7L361.4 686.1L363.0 684.2L364.5 688.0L366.1 687.0L367.7 689.1L369.3 687.4L370.9 688.6L372.5 686.2L374.0 685.7L375.6 686.9L377.2 686.6L378.8 685.5L380.4 687.3L381.9 686.3L383.5 685.5L385.1 684.3L386.7 685.9L388.3 685.9L389.9 684.0L391.4 683.5L393.0 682.7L394.6 685.4L396.2 687.8L397.8 683.2L399.4 682.2L400.9 686.7L402.5 684.1L404.1 684.8L405.7 683.2L407.3 682.6L408.8 684.8L410.4 685.1L412.0 685.4L413.6 684.9L415.2 685.3L416.8 684.1L418.3 682.1L419.9 685.8L421.5 684.7L423.1 682.7L424.7 683.3L426.3 683.1L427.8 683.3L429.4 683.0L431.0 683.8L432.6 685.1L434.2 681.4L435.8 683.6L437.3 685.1L438.9 683.3L440.5 685.9L442.1 683.3L443.7 683.6L445.2 682.5L446.8 681.7L448.4 682.6L450.0 683.4L451.6 684.8L453.2 683.3L454.7 684.0L456.3 682.6L457.9 681.9L459.5 680.0L461.1 680.1L462.7 681.6L464.2 683.8L465.8 680.8L467.4 682.2L469.0 680.2L470.6 682.0L472.1 681.9L473.7 680.4L475.3 682.3L476.9 679.1L478.5 678.0L480.1 680.7L481.6 680.4L483.2 679.1L484.8 679.0L486.4 679.7L488.0 679.7L489.6 678.5L491.1 677.4L492.7 675.6L494.3 679.1L495.9 679.6L497.5 675.9L499.1 674.8L500.6 674.4L502.2 674.8L503.8 675.9L505.4 675.8L507.0 675.5L508.5 676.5L510.1 674.2L511.7 673.0L513.3 673.4L514.9 673.1L516.5 673.7L518.0 677.0L519.6 674.7L521.2 674.5L522.8 675.3L524.4 674.4L526.0 674.5L527.5 674.1L529.1 672.8L530.7 671.4L532.3 671.8L533.9 672.7L535.5 675.6L537.0 674.8L538.6 674.9L540.2 674.4L541.8 672.6L543.4 671.3L544.9 672.2L546.5 672.5L548.1 673.4L549.7 673.7L551.3 672.9L552.9 669.6L554.4 671.9L556.0 671.2L557.6 669.6L559.2 672.8L560.8 674.8L562.4 672.5L563.9 672.0L565.5 672.0L567.1 673.4L568.7 673.0L570.3 670.8L571.8 672.8L573.4 674.7L575.0 675.7L576.6 675.1L578.2 676.2L579.8 675.5L581.3 676.1L582.9 675.6L584.5 674.6L586.1 678.3L587.7 678.5L589.3 676.8L590.8 676.6L592.4 677.0L594.0 675.0L595.6 676.3L597.2 677.2L598.8 676.8L600.3 678.2L601.9 677.5L603.5 675.3L605.1 678.2L606.7 679.8L608.2 679.3L609.8 677.9L611.4 677.3L613.0 679.3L614.6 677.5L616.2 678.4L617.7 680.0L619.3 680.3L620.9 680.9L622.5 678.9L624.1 677.1L625.7 677.6L627.2 678.8L628.8 680.5L630.4 678.8L632.0 677.6L633.6 680.8L635.1 680.4L636.7 677.7L638.3 678.7L639.9 680.8L641.5 680.2L643.1 679.0L644.6 678.7L646.2 678.0L647.8 679.2L649.4 679.3L651.0 680.4L652.6 680.0L654.1 679.6L655.7 678.3L657.3 679.2L658.9 679.3L660.5 679.2L662.1 679.5L663.6 679.6L665.2 679.3L666.8 677.2L668.4 676.4L670.0 677.1L671.5 677.8L673.1 678.5L674.7 678.2L676.3 678.3L677.9 675.8L679.5 675.0L681.0 675.6L682.6 677.7L684.2 679.5L685.8 677.0L687.4 673.5L689.0 674.2L690.5 675.9L692.1 674.3L693.7 671.9L695.3 669.0L696.9 667.9L698.5 665.7L700.0 661.9L701.6 656.8L703.2 656.6L704.8 654.3L706.4 650.7L707.9 646.6L709.5 639.2L711.1 633.3L712.7 629.3L714.3 627.1L715.9 625.0L717.4 623.6L719.0 621.7L720.6 624.1L722.2 621.7L723.8 622.2L725.4 627.6L726.9 633.2L728.5 634.8L730.1 642.6L731.7 651.9L733.3 662.6L734.8 673.5L736.4 684.1L738.0 695.7L739.6 704.1L741.2 712.9L742.8 718.1L744.3 724.1L745.9 732.4L747.5 739.8L749.1 744.5L750.7 746.7L752.3 747.0L753.8 743.5L755.4 739.7L757.0 739.1L758.6 736.7L760.2 733.3L761.8 729.0L763.3 724.1L764.9 720.9L766.5 718.8L768.1 714.7L769.7 711.6L771.2 709.4L772.8 702.4L774.4 700.0L776.0 696.8L777.6 695.8L779.2 696.9L780.7 696.4L782.3 695.6L783.9 698.4L785.5 695.0L787.1 695.2L788.7 696.3L790.2 694.1L791.8 693.7L793.4 693.4L795.0 693.7L796.6 696.1L798.1 694.0L799.7 692.0L801.3 687.4L802.9 689.6L804.5 690.4L806.1 689.0L807.6 689.8L809.2 687.9L810.8 687.2L812.4 688.5L814.0 686.5L815.6 686.0L817.1 684.7L818.7 688.8L820.3 686.9L821.9 687.6L823.5 685.6L825.1 688.7L826.6 687.8L828.2 684.8L829.8 685.9L831.4 687.4L833.0 685.7L834.5 685.5L836.1 685.8L837.7 686.5L839.3 687.1L840.9 684.0L842.5 683.9L844.0 684.4L845.6 681.6L847.2 683.1L848.8 682.7L850.4 682.1L852.0 678.5L853.5 678.1L855.1 677.5L856.7 679.5L858.3 677.6L859.9 677.4L861.4 678.2L863.0 678.9L864.6 675.4L866.2 675.1L867.8 677.9L869.4 676.5L870.9 675.5L872.5 676.9L874.1 676.6L875.7 676.9L877.3 675.6L878.9 676.3L880.4 673.5L882.0 672.8L883.6 673.1L885.2 672.5L886.8 669.6L888.4 669.9L889.9 669.6L891.5 669.7L893.1 669.8L894.7 667.4L896.3 664.0L897.8 667.9L899.4 669.1L901.0 667.3L902.6 667.1L904.2 667.8L905.8 665.1L907.3 663.5L908.9 664.7L910.5 662.6L912.1 664.7L913.7 664.7L915.3 662.5L916.8 665.9L918.4 663.4L920.0 663.3L921.6 663.0L923.2 661.7L924.8 659.3L926.3 659.8L927.9 660.3L929.5 658.5L931.1 660.1L932.7 658.7L934.2 657.3L935.8 662.0L937.4 660.4L939.0 661.5L940.6 658.3L942.2 659.9L943.7 659.3L945.3 656.4L946.9 654.7L948.5 655.0L950.1 653.6L951.7 654.4L953.2 654.0L954.8 652.4L956.4 651.9L958.0 650.8L959.6 646.5L961.1 644.4L962.7 641.0L964.3 637.2L965.9 633.2L967.5 629.0L969.1 623.5L970.6 620.4L972.2 620.1L973.8 615.3L975.4 614.8L977.0 614.5L978.6 616.3L980.1 617.8L981.7 619.7L983.3 622.1L984.9 624.8L986.5 632.6L988.1 639.7L989.6 648.2L991.2 658.1L992.8 669.3L994.4 679.7L996.0 690.1L997.5 700.7L999.1 709.4L1000.7 719.4L1002.3 728.0L1003.9 734.7L1005.5 739.3L1007.0 742.7L1008.6 745.3L1010.2 749.0L1011.8 747.4L1013.4 740.3L1015.0 739.7L1016.5 737.3L1018.1 733.3L1019.7 730.6L1021.3 727.4L1022.9 723.2L1024.4 717.5L1026.0 717.1L1027.6 716.4L1029.2 714.9L1030.8 709.6L1032.4 708.1L1033.9 707.0L1035.5 704.4L1037.1 701.6L1038.7 703.3L1040.3 702.1L1041.9 701.7L1043.4 701.7L1045.0 703.3L1046.6 701.4L1048.2 699.8L1049.8 700.5L1051.4 701.8L1052.9 701.2L1054.5 700.3L1056.1 700.8L1057.7 700.7L1059.3 698.3L1060.8 698.0L1062.4 698.0L1064.0 700.0L1065.6 700.2L1067.2 701.0L1068.8 698.8L1070.3 700.1L1071.9 700.5L1073.5 700.3L1075.1 700.3L1076.7 699.2L1078.3 700.0L1079.8 704.0L1081.4 702.5L1083.0 703.3L1084.6 704.1L1086.2 703.6L1087.8 702.9L1089.3 701.0L1090.9 702.3L1092.5 703.4L1094.1 703.4L1095.7 705.3L1097.2 704.0L1098.8 702.6L1100.4 704.4L1102.0 704.6L1103.6 704.9L1105.2 706.8L1106.7 703.5L1108.3 702.9L1109.9 702.7L1111.5 704.0L1113.1 702.2L1114.7 703.9L1116.2 704.9L1117.8 702.7L1119.4 702.6L1121.0 701.9L1122.6 700.7L1124.1 700.3L1125.7 698.2L1127.3 699.4L1128.9 703.3L1130.5 702.5L1132.1 702.3L1133.6 701.6L1135.2 700.8L1136.8 701.5L1138.4 700.7L1140.0 700.0L1141.6 700.1L1143.1 702.8L1144.7 701.2L1146.3 702.4L1147.9 699.5L1149.5 701.1L1151.1 700.9L1152.6 700.2L1154.2 700.1L1155.8 699.1L1157.4 698.2L1159.0 696.6L1160.5 699.1L1162.1 697.0L1163.7 695.4L1165.3 694.4L1166.9 696.6L1168.5 697.9L1170.0 695.3L1171.6 694.9L1173.2 693.1L1174.8 694.4L1176.4 695.3L1178.0 695.6L1179.5 694.9L1181.1 694.8L1182.7 697.6L1184.3 693.6L1185.9 695.0L1187.4 695.7L1189.0 694.4L1190.6 695.7L1192.2 695.2L1193.8 694.1L1195.4 695.2L1196.9 694.8L1198.5 694.0L1200.1 691.4L1201.7 694.4L1203.3 693.4L1204.9 691.9L1206.4 689.7L1208.0 689.4L1209.6 686.8L1211.2 686.3L1212.8 684.9L1214.4 683.9L1215.9 682.2L1217.5 679.2L1219.1 675.5L1220.7 671.2L1222.3 668.9L1223.8 666.2L1225.4 661.9L1227.0 655.7L1228.6 653.1L1230.2 650.9L1231.8 650.9L1233.3 650.2L1234.9 649.8L1236.5 648.0L1238.1 649.6L1239.7 654.5L1241.3 656.0L1242.8 659.9L1244.4 664.3L1246.0 669.4L1247.6 675.8L1249.2 683.4L1250.7 690.3L1252.3 700.1L1253.9 709.7L1255.5 718.1L1257.1 722.6L1258.7 727.2L1260.2 733.6L1261.8 741.4L1263.4 746.8L1265.0 746.5L1266.6 745.8L1268.2 742.6L1269.7 744.8L1271.3 747.3L1272.9 747.4L1274.5 742.5L1276.1 738.3L1277.7 736.8L1279.2 732.3L1280.8 727.6L1282.4 722.3L1284.0 723.9L1285.6 722.3L1287.1 720.3L1288.7 717.5L1290.3 714.6L1291.9 711.2L1293.5 710.3L1295.1 709.0L1296.6 707.1L1298.2 705.9L1299.8 704.3L1301.4 705.7L1303.0 705.4L1304.6 705.0L1306.1 703.1L1307.7 703.6L1309.3 704.2L1310.9 702.7L1312.5 701.3L1314.1 701.9L1315.6 701.7L1317.2 701.7L1318.8 701.3L1320.4 703.3L1322.0 703.1L1323.5 700.6L1325.1 699.6L1326.7 699.4L1328.3 700.1L1329.9 698.2L1331.5 699.6L1333.0 702.6L1334.6 701.1L1336.2 699.4L1337.8 699.6L1339.4 697.5L1341.0 698.5L1342.5 699.8L1344.1 700.0L1345.7 698.8L1347.3 698.6L1348.9 699.1L1350.4 696.9L1352.0 698.4L1353.6 697.6L1355.2 698.3L1356.8 699.0L1358.4 697.8L1359.9 697.4L1361.5 699.4L1363.1 699.8L1364.7 700.0L1366.3 701.1L1367.9 698.3L1369.4 699.8L1371.0 698.7L1372.6 698.3L1374.2 695.4L1375.8 698.4L1377.4 699.5L1378.9 698.9L1380.5 698.4L1382.1 697.2L1383.7 694.5L1385.3 697.4L1386.8 700.3L1388.4 698.4L1390.0 697.8L1391.6 697.2L1393.2 699.5L1394.8 699.5L1396.3 695.9L1397.9 696.9L1399.5 697.7L1401.1 698.1L1402.7 696.7L1404.3 696.4L1405.8 697.3L1407.4 699.0L1409.0 698.3L1410.6 699.7L1412.2 698.1L1413.7 698.3L1415.3 697.5L1416.9 699.3L1418.5 696.2L1420.1 697.6L1421.7 699.0L1423.2 697.9L1424.8 697.7L1426.4 699.5L1428.0 699.0L1429.6 700.0L1431.2 699.4L1432.7 697.4L1434.3 700.5L1435.9 697.9L1437.5 697.1L1439.1 696.7L1440.7 697.4L1442.2 698.3L1443.8 699.3L1445.4 695.8L1447.0 696.6L1448.6 697.5L1450.1 696.3L1451.7 697.3L1453.3 696.7L1454.9 696.9L1456.5 696.5L1458.1 697.5L1459.6 698.3L1461.2 701.1L1462.8 697.0L1464.4 695.5L1466.0 696.0L1467.6 695.9L1469.1 695.8L1470.7 697.0L1472.3 697.1L1473.9 697.0L1475.5 694.2L1477.0 695.4L1478.6 697.3L1480.2 698.4L1481.8 698.3L1483.4 697.4L1485.0 694.7L1486.5 694.9L1488.1 696.4L1489.7 697.4L1491.3 697.6L1492.9 697.3L1494.5 696.4L1496.0 697.4L1497.6 697.4L1499.2 697.5L1500.8 697.4L1502.4 697.3L1504.0 698.2L1505.5 698.2L1507.1 697.7L1508.7 697.3L1510.3 696.7L1511.9 696.3L1513.4 697.3L1515.0 695.7L1516.6 699.0L1518.2 696.7L1519.8 696.3L1521.4 694.8L1522.9 693.9L1524.5 696.3L1526.1 697.6L1527.7 699.5L1529.3 699.6L1530.9 696.8L1532.4 696.1L1534.0 695.2L1535.6 695.7L1537.2 697.2L1538.8 696.9L1540.4 699.0L1541.9 696.6L1543.5 697.5L1545.1 698.5L1546.7 697.9L1548.3 697.0L1549.8 696.5L1551.4 697.5L1553.0 697.0L1554.6 696.7L1556.2 695.5L1557.8 694.9L1559.3 696.4L1560.9 695.6L1562.5 695.9L1564.1 696.1L1565.7 697.1L1567.3 696.9L1568.8 698.7L1570.4 697.0L1572.0 697.8L1573.6 699.9L1575.2 700.0L1576.7 698.0L1578.3 699.1L1579.9 698.2L1581.5 697.2L1583.1 697.3L1584.7 699.2L1586.2 699.3L1587.8 696.5L1589.4 699.1L1591.0 699.1L1592.6 697.6L1594.2 700.8L1595.7 698.4L1597.3 696.2L1598.9 696.1L1600.5 696.7L1602.1 699.2L1603.7 696.3L1605.2 697.7L1606.8 696.9L1608.4 697.9L1610.0 696.0L1611.6 698.3L1613.1 696.7L1614.7 697.9L1616.3 696.0L1617.9 697.8L1619.5 698.7L1621.1 697.7L1622.6 698.8L1624.2 700.1L1625.8 698.8L1627.4 700.3L1629.0 699.2L1630.6 700.0L1632.1 698.0L1633.7 696.0L1635.3 696.8L1636.9 697.6L1638.5 699.4L1640.0 702.1L1641.6 700.6L1643.2 699.5L1644.8 698.1L1646.4 697.3L1648.0 697.8L1649.5 697.3L1651.1 698.9L1652.7 698.4L1654.3 697.6L1655.9 698.5L1657.5 699.2L1659.0 698.9L1660.6 697.6L1662.2 699.5L1663.8 700.8L1665.4 697.1L1667.0 696.2L1668.5 698.8L1670.1 695.9L1671.7 698.4L1673.3 697.0L1674.9 698.6L1676.4 699.2L1678.0 698.0L1679.6 697.7L1681.2 696.9L1682.8 699.2L1684.4 699.2L1685.9 697.7L1687.5 696.8L1689.1 698.8L1690.7 698.5L1692.3 697.8L1693.9 697.7L1695.4 696.1L1697.0 699.2L1698.6 699.7L1700.2 698.1L1701.8 697.5L1703.4 697.5L1704.9 695.0L1706.5 694.1L1708.1 694.6L1709.7 696.3L1711.3 696.3L1712.8 696.5L1714.4 697.2L1716.0 695.6L1717.6 693.9L1719.2 696.5L1720.8 694.5L1722.3 693.3L1723.9 696.6L1725.5 695.6L1727.1 692.9L1728.7 693.6L1730.3 695.7L1731.8 693.9L1733.4 694.8L1735.0 694.4L1736.6 695.4L1738.2 695.8L1739.7 692.7L1741.3 693.7L1742.9 694.9L1744.5 693.1L1746.1 694.3L1747.7 695.6L1749.2 694.7L1750.8 693.0L1752.4 693.0L1754.0 695.4L1755.6 694.4L1757.2 692.8L1758.7 694.8L1760.3 696.0L1761.9 694.8L1763.5 693.1L1765.1 693.4L1766.7 694.3L1768.2 693.8L1769.8 693.8L1771.4 692.1L1773.0 693.6L1774.6 695.6L1776.1 695.6L1777.7 696.2L1779.3 695.7L1780.9 693.3L1782.5 693.3L1784.1 695.2L1785.6 693.5L1787.2 693.9L1788.8 692.2L1790.4 689.4L1792.0 692.4L1793.6 692.0L1795.1 696.0L1796.7 695.6L1798.3 695.6L1799.9 693.4L1801.5 693.3L1803.0 692.7L1804.6 693.6L1806.2 693.4L1807.8 693.2L1809.4 695.5L1811.0 694.7L1812.5 695.8L1814.1 696.0L1815.7 695.2L1817.3 696.5L1818.9 695.6L1820.5 695.5L1822.0 694.5L1823.6 693.8L1825.2 694.6L1826.8 694.3L1828.4 693.0L1830.0 691.6L1831.5 692.6L1833.1 693.7L1834.7 693.9L1836.3 692.1L1837.9 692.7L1839.4 693.5L1841.0 693.1L1842.6 693.3L1844.2 693.3L1845.8 692.6L1847.4 691.1L1848.9 692.8L1850.5 693.0L1852.1 693.0L1853.7 693.5L1855.3 694.4L1856.9 695.6L1858.4 695.1L1860.0 693.4L1861.6 693.7L1863.2 692.8L1864.8 694.4L1866.3 694.9L1867.9 694.0L1869.5 692.6L1871.1 693.1L1872.7 694.6L1874.3 693.5L1875.8 694.3L1877.4 693.7L1879.0 694.9L1880.6 692.9L1882.2 695.4L1883.8 694.9L1885.3 694.7L1886.9 697.3L1888.5 696.4L1890.1 692.2L1891.7 693.0L1893.3 694.2L1894.8 692.0L1896.4 694.6L1898.0 696.1"/>
</g>
<rect x="1440" y="22" width="310" height="277" fill="#fff" stroke="#000" stroke-width="4" shape-rendering="crispEdges"/>
<g stroke-width="3" shape-rendering="crispEdges">
<line x1="1470" y1="86.5" x2="1623" y2="86.5" stroke="#000000"/>
<line x1="1470" y1="158.5" x2="1623" y2="158.5" stroke="#ff0000"/>
<line x1="1470" y1="230.5" x2="1623" y2="230.5" stroke="#0000ff"/>
</g>
<text class="lg" transform="translate(1636 106.2) scale(1 1.025)">M1</text>
<text class="lg" transform="translate(1636 177.8) scale(1 1.025)">M3</text>
<text class="lg" transform="translate(1636 249.8) scale(1 1.025)">M5</text>
</svg></body></html>
